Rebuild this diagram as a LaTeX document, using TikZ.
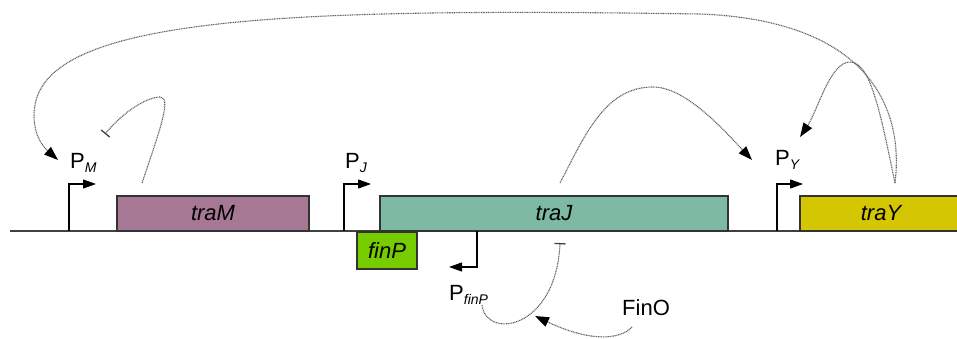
\documentclass[tikz,border=0pt]{standalone}
\usepackage{fontspec}
\setmainfont{Liberation Sans}
\usetikzlibrary{arrows.meta}

\definecolor{traMcol}{RGB}{166,120,148}
\definecolor{traJcol}{RGB}{125,185,163}
\definecolor{traYcol}{RGB}{212,198,0}
\definecolor{finPcol}{RGB}{119,204,0}
\definecolor{edgecol}{RGB}{51,51,51}
\definecolor{dnacol}{RGB}{64,64,64}
\definecolor{regcol}{RGB}{95,95,95}

\newcommand\labelfont{\fontsize{22}{22}\selectfont}
\newcommand\psub[1]{\raisebox{-4pt}{\fontsize{14}{14}\selectfont\itshape #1}}

\begin{document}
\begin{tikzpicture}[x=1pt, y=-1pt,
  genebox/.style={draw=edgecol, line width=1.2pt, inner sep=0pt,
    minimum height=35pt, font=\labelfont\itshape},
  lbl/.style={inner sep=0pt, font=\labelfont},
  prom/.style={line width=1.2pt, -{Triangle[length=13pt,width=9pt]}},
  reg/.style={draw=regcol, line width=1.1pt, dash pattern=on 1pt off 0.7pt},
  act/.style={reg, -{Triangle[length=14pt,width=10pt,color=black]}},
  inh/.style={reg, -{Bar[width=11pt,line width=1.3pt,color=black!75]}}]

\useasboundingbox (0,0) rectangle (957,339);

% DNA strand
\coordinate (dnaL) at (10,231);
\coordinate (dnaR) at (960,231);
\draw[dnacol, line width=1.5pt] (dnaL) -- (dnaR);

% genes
\node[genebox, fill=finPcol, minimum width=60pt, minimum height=37pt] (finP) at (387,250.5) {finP};
\node[genebox, fill=traMcol, minimum width=192pt] (traM) at (213,213.5) {traM};
\node[genebox, fill=traJcol, minimum width=348pt] (traJ) at (554,213.5) {traJ};
\node[genebox, fill=traYcol, minimum width=162pt] (traY) at (881,213.5) {traY};

% promoters
\coordinate (PMfoot) at (69,231);  \coordinate (PMtip) at (96,184);
\coordinate (PJfoot) at (344,231); \coordinate (PJtip) at (371,184);
\coordinate (PYfoot) at (777,231); \coordinate (PYtip) at (803,184);
\coordinate (PFfoot) at (477,231); \coordinate (PFtip) at (449,267);
\draw[prom] (PMfoot) |- (PMtip);
\draw[prom] (PJfoot) |- (PJtip);
\draw[prom] (PYfoot) |- (PYtip);
\draw[prom] (PFfoot) |- (PFtip);

% promoter labels
\node[lbl, anchor=base west] (PM) at (70,168) {P\psub{M}};
\node[lbl, anchor=base west] (PJ) at (345,168) {P\psub{J}};
\node[lbl, anchor=base west] (PY) at (775,165) {P\psub{Y}};
\node[lbl, anchor=base west] (PF) at (449,300) {P\psub{finP}};
\node[lbl, anchor=base west] (FinO) at (622,315) {FinO};

% ends of the regulatory links
\coordinate (tyOut) at (895,183);
\coordinate (tjOut) at (560,183);
\coordinate (tmOut) at (142,183);
\coordinate (pfOut) at (482,305);
\coordinate (foOut) at (632,327);
\coordinate (toPM) at (58,160);
\coordinate (toPYa) at (752,160);
\coordinate (toPYb) at (800,137);
\coordinate (barPM) at (105,134);
\coordinate (barTJ) at (560,243);
\coordinate (onRNA) at (535,316);

% TraY acts back on P_M (long loop over the top)
\draw[act] (tyOut) .. controls (905,100) and (860,20) .. (700,14)
  .. controls (300,8) and (50,15) .. (35,105)
  .. controls (31,128) and (40,144) .. (toPM);
% TraY acts on its own promoter
\draw[act] (tyOut) .. controls (880,110) and (870,62) .. (850,62)
  .. controls (830,62) and (818,110) .. (toPYb);
% TraJ acts on P_Y
\draw[act] (tjOut) .. controls (585,135) and (605,87) .. (653,87)
  .. controls (685,87) and (722,128) .. (toPYa);
% TraM represses P_M
\draw[inh] (tmOut) .. controls (160,130) and (172,97) .. (160,97)
  .. controls (148,97) and (125,110) .. (barPM);
% finP antisense RNA blocks traJ
\draw[inh] (pfOut) .. controls (486,340) and (556,330) .. (barTJ);
% FinO stabilises finP RNA
\draw[act] (foOut) .. controls (620,340) and (590,342) .. (onRNA);

\end{tikzpicture}
\end{document}
